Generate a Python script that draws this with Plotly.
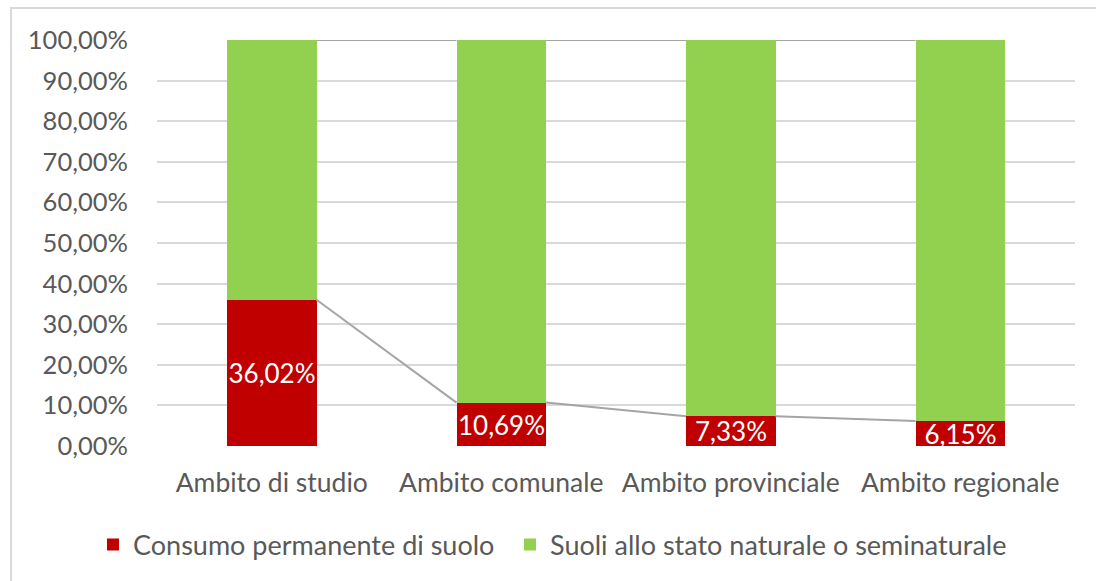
import plotly.graph_objects as go

# Categories and shares (fractions of total surface)
categories = ["Ambito di studio", "Ambito comunale", "Ambito provinciale", "Ambito regionale"]
consumo = [0.3602, 0.1069, 0.0733, 0.0615]
naturale = [round(1 - v, 4) for v in consumo]
y_ticks = [i / 10 for i in range(11)]

series_names = ["Consumo permanente di suolo", "Suoli allo stato naturale o seminaturale"]
colors = ["#C00000", "#92D050"]

W, H = 1096, 581
L, R, T, B = 157, 21, 40, 135
plot_w, plot_h = W - L - R, H - T - B
bar_w = 0.39
font_family = "Lato, 'Open Sans', sans-serif"
text_grey = "#595959"

fig = go.Figure()
fig.add_trace(go.Bar(
    x=list(range(len(categories))), y=consumo, name=series_names[0],
    marker=dict(color=colors[0], line=dict(width=0)), width=bar_w,
    texttemplate="%{y:.2%}", textposition="inside", insidetextanchor="middle",
    textangle=0, constraintext="none", cliponaxis=False,
    textfont=dict(color="white", size=26, family=font_family),
    legend="legend",
))
fig.add_trace(go.Bar(
    x=list(range(len(categories))), y=naturale, name=series_names[1],
    marker=dict(color=colors[1], line=dict(width=0)), width=bar_w,
    hoverinfo="y", legend="legend2",
))

# Series lines joining the tops of adjacent stacked segments
shapes = []
tops_red = consumo
tops_all = [c + n for c, n in zip(consumo, naturale)]
for tops in (tops_red, tops_all):
    for i in range(len(categories) - 1):
        shapes.append(dict(
            type="line", xref="x", yref="y",
            x0=i + bar_w / 2, y0=tops[i], x1=i + 1 - bar_w / 2, y1=tops[i + 1],
            line=dict(color="#A5A5A5", width=2), layer="above",
        ))

# Chart frame
shapes.append(dict(
    type="rect", xref="paper", yref="paper",
    x0=(11 - L) / plot_w, x1=(W + 5 - L) / plot_w,
    y0=(H - B - (H + 5)) / plot_h, y1=(H - B - 8) / plot_h,
    line=dict(color="#D9D9D9", width=2), fillcolor="rgba(0,0,0,0)", layer="below",
))

legend_style = dict(
    orientation="h", xanchor="left",
    y=-(545 - (H - B)) / plot_h, yanchor="middle",
    font=dict(size=27, color=text_grey, family=font_family),
    itemwidth=30, bgcolor="rgba(0,0,0,0)",
)

fig.update_layout(
    width=W, height=H,
    margin=dict(l=L, r=R, t=T, b=B),
    barmode="stack", bargap=0,
    separators=",.",
    plot_bgcolor="white", paper_bgcolor="white",
    font=dict(family=font_family, color=text_grey, size=25),
    showlegend=True,
    legend=dict(x=(93 - L) / plot_w, **legend_style),
    legend2=dict(x=(510 - L) / plot_w, **legend_style),
    shapes=shapes,
)
fig.update_xaxes(
    tickmode="array", tickvals=list(range(len(categories))), ticktext=categories,
    range=[-0.5, len(categories) - 0.5],
    showgrid=False, zeroline=False, showline=False,
    ticks="outside", ticklen=13, tickcolor="rgba(0,0,0,0)",
    tickfont=dict(size=26.5, color=text_grey, family=font_family),
)
fig.update_yaxes(
    range=[0, 1], tickmode="array", tickvals=y_ticks, tickformat=".2%",
    showgrid=True, gridcolor="#D9D9D9", gridwidth=1.5,
    zeroline=False, showline=False, ticks="", ticklabelstandoff=28,
    tickfont=dict(size=25.5, color=text_grey, family=font_family),
)

fig.write_html("out.html")
